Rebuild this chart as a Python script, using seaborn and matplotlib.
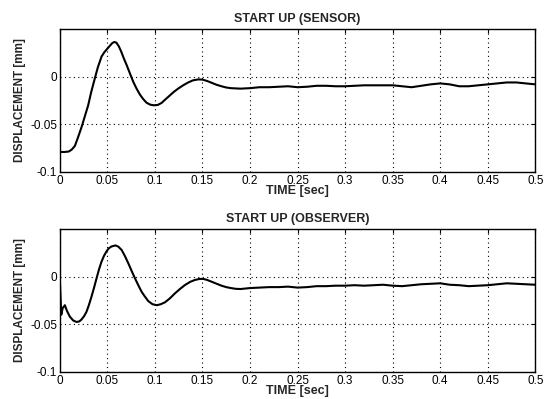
import numpy as np
import pandas as pd
import matplotlib
matplotlib.use("Agg")
import matplotlib.pyplot as plt
import seaborn as sns

# values
sensor_t = [0, 0.005, 0.0095, 0.0125, 0.0158, 0.019, 0.0228, 0.026, 0.0298, 0.033,
            0.0368, 0.040, 0.0439, 0.047, 0.050, 0.0526, 0.055, 0.0572, 0.0595, 0.062,
            0.0645, 0.067, 0.0702, 0.0737, 0.0772, 0.0807, 0.0842, 0.0877, 0.0912, 0.095,
            0.0989, 0.103, 0.107, 0.111, 0.1158, 0.12, 0.1245, 0.13, 0.135, 0.14,
            0.1456, 0.15, 0.155, 0.16, 0.165, 0.17, 0.175, 0.18, 0.19, 0.2,
            0.21, 0.22, 0.23, 0.24, 0.25, 0.26, 0.27, 0.28, 0.29, 0.3,
            0.31, 0.32, 0.33, 0.34, 0.35, 0.36, 0.37, 0.38, 0.39, 0.4,
            0.41, 0.42, 0.43, 0.44, 0.45, 0.46, 0.47, 0.48, 0.49, 0.5]
sensor_y = [-0.079, -0.079, -0.0785, -0.0765, -0.0727, -0.064, -0.053, -0.0425, -0.030, -0.016,
            -0.0017, 0.010, 0.0213, 0.026, 0.0295, 0.0325, 0.0352, 0.0365, 0.0358, 0.032,
            0.0265, 0.020, 0.0124, 0.0035, -0.0053, -0.0125, -0.0187, -0.0235, -0.0273, -0.0293,
            -0.030, -0.0296, -0.0275, -0.0238, -0.0195, -0.0158, -0.0124, -0.0088, -0.006, -0.0038,
            -0.0028, -0.003, -0.0045, -0.0065, -0.0085, -0.010, -0.0113, -0.012, -0.0125, -0.012,
            -0.011, -0.011, -0.0105, -0.010, -0.011, -0.0105, -0.0095, -0.0095, -0.010, -0.010,
            -0.0095, -0.009, -0.009, -0.009, -0.009, -0.010, -0.011, -0.0095, -0.008, -0.007,
            -0.008, -0.010, -0.010, -0.009, -0.008, -0.007, -0.006, -0.006, -0.007, -0.008]

observer_t = [0, 0.0015, 0.003, 0.0053, 0.0075, 0.0105, 0.014, 0.0175, 0.0205, 0.0228,
              0.0255, 0.028, 0.0305, 0.0333, 0.036, 0.0386, 0.041, 0.0439, 0.0465, 0.049,
              0.0515, 0.0544, 0.0586, 0.0615, 0.065, 0.0685, 0.072, 0.0755, 0.079, 0.0825,
              0.086, 0.0895, 0.093, 0.0975, 0.102, 0.106, 0.1105, 0.1155, 0.121, 0.1265,
              0.1316, 0.137, 0.142, 0.147, 0.151, 0.155, 0.16, 0.165, 0.17, 0.175,
              0.18, 0.185, 0.19, 0.2, 0.21, 0.22, 0.23, 0.24, 0.25, 0.26,
              0.27, 0.28, 0.29, 0.3, 0.31, 0.32, 0.33, 0.34, 0.35, 0.36,
              0.37, 0.38, 0.39, 0.4, 0.41, 0.42, 0.43, 0.44, 0.45, 0.46,
              0.47, 0.48, 0.49, 0.5]
observer_y = [-0.003, -0.040, -0.033, -0.030, -0.036, -0.042, -0.046, -0.0476, -0.047, -0.045,
              -0.0415, -0.037, -0.030, -0.021, -0.0115, -0.0018, 0.007, 0.0159, 0.022, 0.0264,
              0.0298, 0.0317, 0.0328, 0.0315, 0.028, 0.0215, 0.014, 0.006, -0.0017, -0.009,
              -0.0159, -0.021, -0.0257, -0.029, -0.030, -0.029, -0.027, -0.023, -0.0176, -0.0128,
              -0.0088, -0.0055, -0.0035, -0.0024, -0.0024, -0.0035, -0.0055, -0.0075, -0.0095, -0.011,
              -0.012, -0.0128, -0.013, -0.012, -0.0115, -0.011, -0.011, -0.0105, -0.0115, -0.011,
              -0.010, -0.010, -0.0095, -0.0095, -0.009, -0.0095, -0.009, -0.0085, -0.0095, -0.010,
              -0.009, -0.008, -0.0075, -0.007, -0.0085, -0.009, -0.010, -0.0095, -0.009, -0.008,
              -0.007, -0.0075, -0.008, -0.0085]

titles = ["START UP (SENSOR)", "START UP (OBSERVER)"]
x_ticks = [0, 0.05, 0.1, 0.15, 0.2, 0.25, 0.3, 0.35, 0.4, 0.45, 0.5]
x_labels = ["0", "0.05", "0.1", "0.15", "0.2", "0.25", "0.3", "0.35", "0.4", "0.45", "0.5"]
y_ticks = [-0.1, -0.05, 0]
y_labels = ["-0.1", "-0.05", "0"]

sns.set_style("white")
plt.rcParams['font.family'] = ['Liberation Sans', 'DejaVu Sans']

fig = plt.figure(figsize=(5.49, 3.99), dpi=100)
ax1 = fig.add_axes([0.109, 0.569, 0.866, 0.358])
ax2 = fig.add_axes([0.109, 0.068, 0.866, 0.358])

series = [(sensor_t, sensor_y), (observer_t, observer_y)]
for ax, (t, y), title in zip([ax1, ax2], series, titles):
    df = pd.DataFrame({"t": t, "y": y})
    sns.lineplot(data=df, x="t", y="y", ax=ax, color="black", linewidth=1.5, sort=False)
    ax.set_xlim(0, 0.5)
    ax.set_ylim(-0.1, 0.05)
    ax.set_xticks(x_ticks)
    ax.set_xticklabels(x_labels)
    ax.set_yticks(y_ticks)
    ax.set_yticklabels(y_labels)
    ax.grid(True, linestyle=(0, (1, 3)), color="black", linewidth=0.8)
    ax.tick_params(direction="in", top=True, right=True, length=3, labelsize=8.5, pad=2, colors="black")
    for s in ax.spines.values():
        s.set_color("black")
        s.set_linewidth(1.0)
    ax.set_title(title, fontsize=9, fontweight="bold", pad=5)
    ax.set_xlabel("TIME [sec]", fontsize=9, fontweight="bold", labelpad=-1)
    ax.set_ylabel("DISPLACEMENT [mm]", fontsize=8.5, fontweight="bold", labelpad=3)

fig.savefig("out.png", dpi=100)
